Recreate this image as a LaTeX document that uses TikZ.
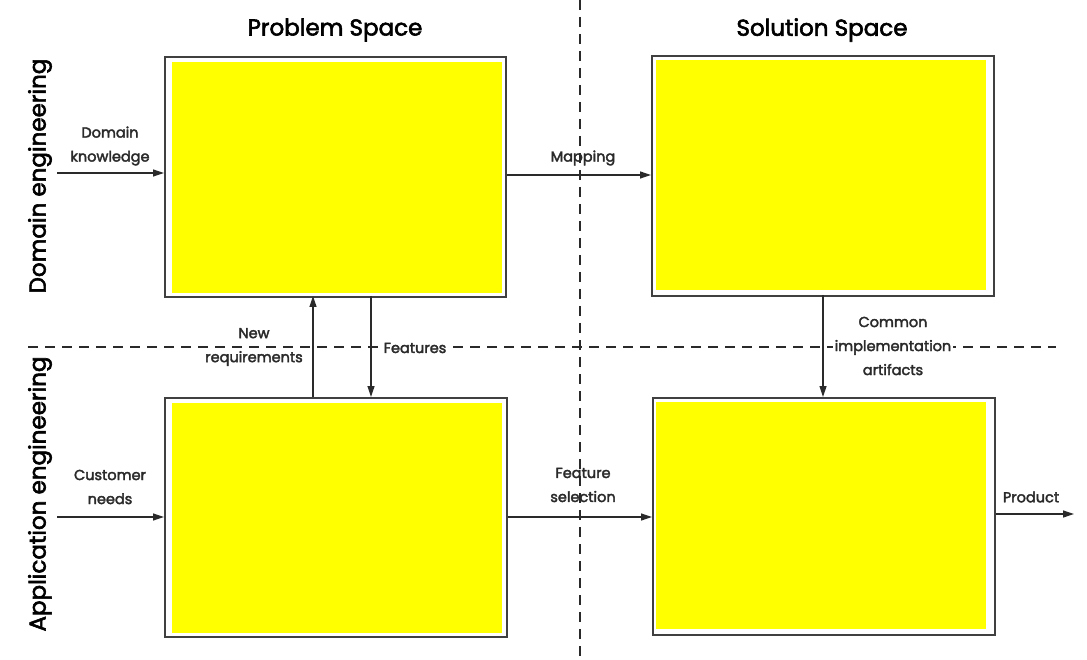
\documentclass[tikz,border=0pt]{standalone}
\usepackage{fontspec}
\setmainfont{Poppins}[UprightFeatures={FakeBold=2.5}]
\usetikzlibrary{arrows.meta}
\definecolor{boxline}{HTML}{404040}
\definecolor{txt}{HTML}{2A2A2A}
\definecolor{yel}{RGB}{255,255,0}
\begin{document}
\begin{tikzpicture}[x=1pt,y=-1pt,
  frame/.style={draw=boxline,line width=1.8pt,fill=white},
  fillin/.style={fill=yel,draw=none},
  conn/.style={line width=1.2pt,draw=txt,-{Triangle[length=11pt,width=7pt]}},
  divider/.style={dashed,line width=1.1pt,dash pattern=on 10pt off 7pt,draw=txt},
  lbl/.style={font=\fontsize{14.5}{24}\selectfont,text=txt,align=center,inner sep=0pt},
  title/.style={font=\fontsize{23}{26}\selectfont,text=black,inner sep=0pt},
  side/.style={font=\fontsize{23}{26}\selectfont,text=black,inner sep=0pt,rotate=90}]
\useasboundingbox (0,0) rectangle (1087,660);
\fill[white] (0,0) rectangle (1087,660);
% dividers
\draw[divider] (580,0) -- (580,660);
\draw[divider] (28,347) -- (1056,347);
% boxes
\node[frame,minimum width=341pt,minimum height=240pt,anchor=north west,inner sep=0pt] (ps) at (164,56) {};
\fill[fillin] (172,62) rectangle (502,293);
\node[frame,minimum width=342pt,minimum height=240pt,anchor=north west,inner sep=0pt] (ss) at (651,55) {};
\fill[fillin] (656,60) rectangle (986,290);
\node[frame,minimum width=342pt,minimum height=239pt,anchor=north west,inner sep=0pt] (pa) at (164,397) {};
\fill[fillin] (172,403) rectangle (502,633);
\node[frame,minimum width=342pt,minimum height=237pt,anchor=north west,inner sep=0pt] (sa) at (652,397) {};
\fill[fillin] (656,402) rectangle (986,629);
% titles
\node[title] (t1) at (335,30) {Problem Space};
\node[title] (t2) at (822,30) {Solution Space};
\node[side] (s1) at (40,176) {Domain engineering};
\node[side] (s2) at (40,494) {Application engineering};
% external coordinates
\coordinate (dkin) at (57,173);
\coordinate (cnin) at (57,517);
\coordinate (prodout) at (1074,514);
% connectors
\draw[conn] (dkin) -- (dkin -| ps.west);
\draw[conn] (ps.east |- 0,175) -- (ss.west |- 0,175);
\draw[conn] (313,397) -- (313,296);
\draw[conn] (371,296) -- (371,397);
\draw[conn] (823,295) -- (823,397);
\draw[conn] (cnin) -- (cnin -| pa.west);
\draw[conn] (pa.east |- 0,517) -- (sa.west |- 0,517);
\draw[conn] (sa.east |- prodout) -- (prodout);
% labels
\node[lbl] (l1) at (110,146) {Domain\\knowledge};
\node[lbl] (l2) at (583,158) {Mapping};
\node[lbl] (l3) at (254,347) {New\\requirements};
\node[lbl,fill=white,inner xsep=2pt] (l4) at (415,348) {Features};
\node[lbl,fill=white,inner xsep=2pt] (l5) at (893,346) {Common\\implementation\\artifacts};
\node[lbl] (l6) at (110,487) {Customer\\needs};
\node[lbl] (l7) at (583,485) {Feature\\selection};
\node[lbl] (l8) at (1031,497) {Product};
\end{tikzpicture}
\end{document}
